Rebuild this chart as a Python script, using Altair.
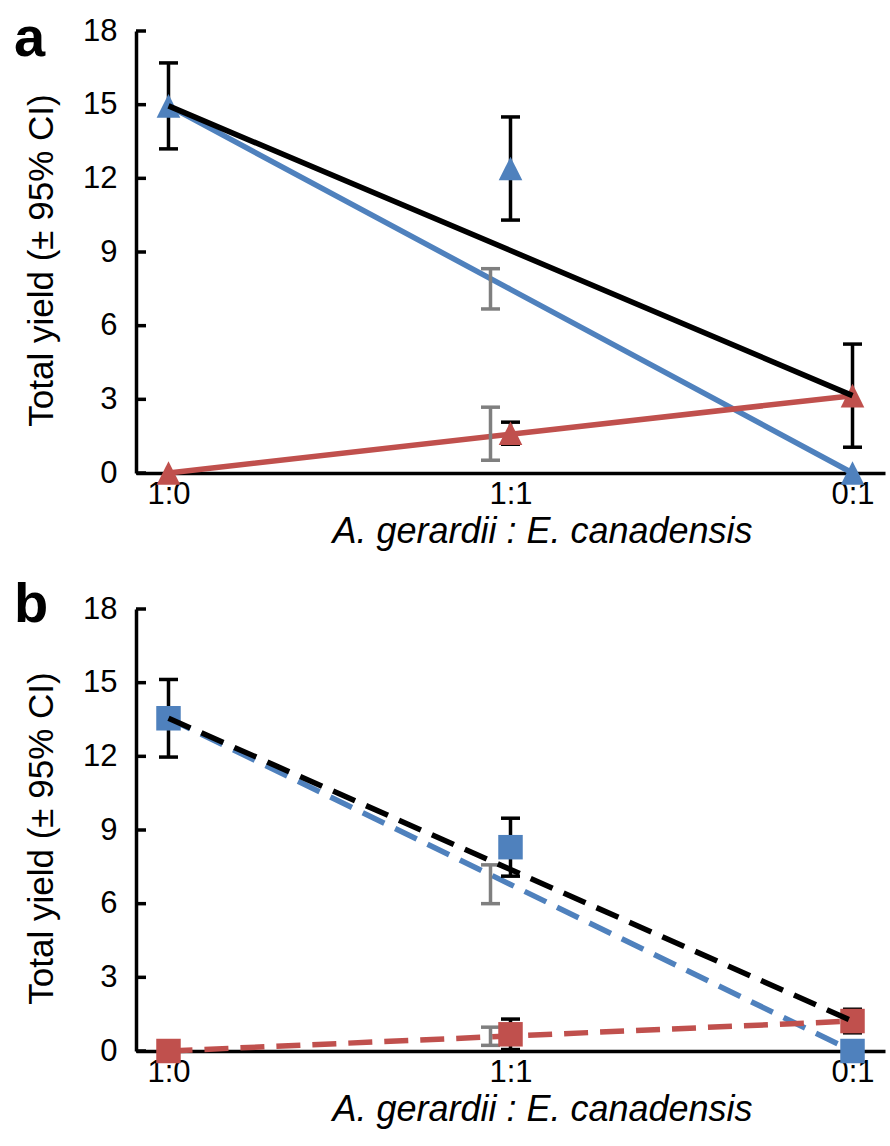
import altair as alt
import pandas as pd

# Planting ratio (A. gerardii : E. canadensis)
ratios = ["1:0", "1:1", "0:1"]
y_ticks = [0, 3, 6, 9, 12, 15, 18]

# Panel a: observed yields with 95% CI half-widths
a_blue_obs = [14.95, 12.4, 0.0]
a_blue_ci = [1.75, 2.1, 0.0]
a_red_obs = [0.0, 1.62, 3.15]
a_red_ci = [0.0, 0.45, 2.1]
# Panel a: expected (replacement-series) yields
a_blue_exp = [14.95, 7.48, 0.0]
a_red_exp = [0.0, 1.58, 3.15]
# Panel a: CI of expected yields at the 1:1 mixture
a_exp_center = [7.5, 1.6]
a_exp_ci = [0.82, 1.08]

# Panel b
b_blue_obs = [13.55, 8.3, 0.0]
b_blue_ci = [1.58, 1.18, 0.0]
b_red_obs = [0.0, 0.68, 1.22]
b_red_ci = [0.0, 0.62, 0.48]
b_blue_exp = [13.55, 6.78, 0.0]
b_red_exp = [0.0, 0.61, 1.22]
b_exp_center = [6.79, 0.6]
b_exp_ci = [0.79, 0.37]

BLUE = "#4F81BD"
RED = "#C0504D"
GRAY = "#7F7F7F"
FONT = "Liberation Sans"
W, H = 749, 442


def panel(letter, letter_y, blue_obs, blue_ci, red_obs, red_ci, blue_exp, red_exp,
          exp_center, exp_ci, shape, msize, dash):
    x = alt.X("ratio:N", sort=ratios,
              scale=alt.Scale(type="point", padding=0.095, domain=ratios),
              axis=alt.Axis(title="A. gerardii : E. canadensis", labelAngle=0,
                            titleFontStyle="italic", labelPadding=6,
                            titlePadding=5, titleFontSize=36, titleX=406))
    y_axis = alt.Axis(title="Total yield (± 95% CI)", values=y_ticks,
                      labelPadding=19, titlePadding=23, titleFontSize=35,
                      titleY=229)
    yscale = alt.Scale(domain=[0, 18], nice=False)

    def y(field):
        return alt.Y(f"{field}:Q", scale=yscale, axis=y_axis)

    total_exp = [b + r for b, r in zip(blue_exp, red_exp)]
    df_blue_exp = pd.DataFrame({"ratio": ratios, "v": blue_exp})
    df_red_exp = pd.DataFrame({"ratio": ratios, "v": red_exp})
    df_total = pd.DataFrame({"ratio": ratios, "v": total_exp})
    df_blue = pd.DataFrame({"ratio": ratios, "v": blue_obs, "ci": blue_ci})
    df_red = pd.DataFrame({"ratio": ratios, "v": red_obs, "ci": red_ci})

    obs = pd.concat([df_blue, df_red])
    obs = obs[obs["ci"] > 0].copy()
    obs["lo"] = obs["v"] - obs["ci"]
    obs["hi"] = obs["v"] + obs["ci"]

    exp = pd.DataFrame({"ratio": ["1:1"] * len(exp_center),
                        "v": exp_center, "ci": exp_ci})
    exp["lo"] = exp["v"] - exp["ci"]
    exp["hi"] = exp["v"] + exp["ci"]

    ticks = pd.DataFrame({"t": y_ticks})
    tick_layer = alt.Chart(ticks).mark_rule(color="black", strokeWidth=3.5).encode(
        y=y("t"), x=alt.value(0), x2=alt.value(10))

    line_kw = dict(strokeWidth=5.5)
    if dash:
        line_kw["strokeDash"] = [24, 12]
    blue_line = alt.Chart(df_blue_exp).mark_line(color=BLUE, **line_kw).encode(x=x, y=y("v"))
    red_line = alt.Chart(df_red_exp).mark_line(color=RED, **line_kw).encode(x=x, y=y("v"))
    total_line = alt.Chart(df_total).mark_line(color="black", **line_kw).encode(x=x, y=y("v"))

    def errbar(df, color, offset):
        r = alt.Chart(df).mark_rule(color=color, strokeWidth=3.5, xOffset=offset).encode(
            x=x, y=y("lo"), y2="hi")
        lo = alt.Chart(df).mark_tick(color=color, thickness=3.5, size=19,
                                     orient="horizontal", xOffset=offset, opacity=1).encode(
            x=x, y=y("lo"))
        hi = alt.Chart(df).mark_tick(color=color, thickness=3.5, size=19,
                                     orient="horizontal", xOffset=offset, opacity=1).encode(
            x=x, y=y("hi"))
        return [r, lo, hi]

    blue_pts = alt.Chart(df_blue).mark_point(shape=shape, size=msize, filled=True,
                                             color=BLUE, opacity=1).encode(x=x, y=y("v"))
    red_pts = alt.Chart(df_red).mark_point(shape=shape, size=msize, filled=True,
                                           color=RED, opacity=1).encode(x=x, y=y("v"))

    label = alt.Chart(pd.DataFrame({"t": [letter]})).mark_text(
        font=FONT, fontSize=56, fontWeight="bold", align="left",
        baseline="alphabetic", color="black").encode(
        text="t:N", x=alt.value(-122), y=alt.value(letter_y))

    layers = ([blue_line, red_line]
              + errbar(exp, GRAY, -20)
              + errbar(obs, "black", 0)
              + [blue_pts, red_pts, total_line, tick_layer, label])
    return alt.layer(*layers).properties(width=W, height=H)


pa = panel("a", 25, a_blue_obs, a_blue_ci, a_red_obs, a_red_ci, a_blue_exp, a_red_exp,
           a_exp_center, a_exp_ci, "M0,-1L1,1L-1,1Z", 560, False)
pb = panel("b", 13, b_blue_obs, b_blue_ci, b_red_obs, b_red_ci, b_blue_exp, b_red_exp,
           b_exp_center, b_exp_ci, "square", 600, True)

chart = alt.vconcat(pa, pb, spacing=28).properties(
    padding={"left": 14, "top": 11, "right": 4, "bottom": 4}
).configure_view(stroke=None).configure_axis(
    domainColor="black", domainWidth=3.5, ticks=False, grid=False,
    labelFont=FONT, labelFontSize=31, labelColor="black",
    titleFont=FONT, titleFontWeight="normal", titleColor="black"
)

chart.save("out.html", embed_options={"renderer": "svg", "actions": False})
